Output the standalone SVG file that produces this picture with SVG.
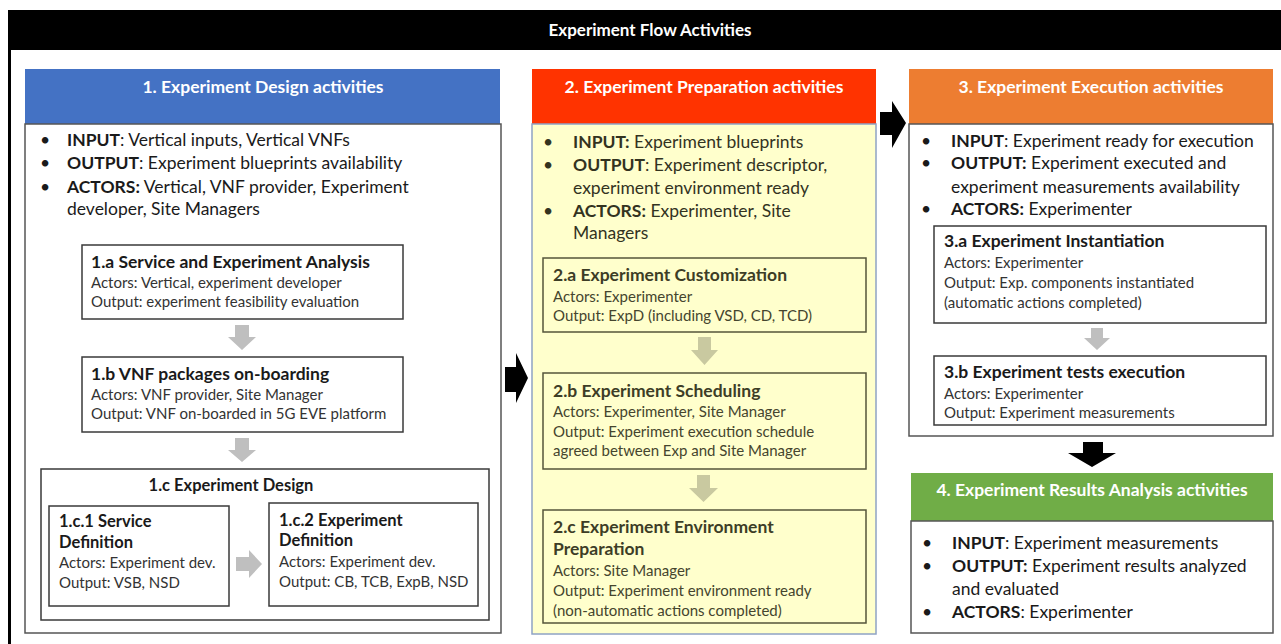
<svg xmlns="http://www.w3.org/2000/svg" width="1281" height="644" viewBox="0 0 1281 644">
<style>
text{font-family:Lato,"Liberation Sans",sans-serif;}
.hdr{font-size:17.5px;font-weight:bold;fill:#fff;text-anchor:middle;}
.bul{font-size:17.5px;fill:#1a1a1a;}
.b{font-weight:bold;}
.st{font-size:17.5px;font-weight:bold;fill:#1a1a1a;}
.sd{font-size:15px;fill:#333;}
.yst{font-size:17.5px;font-weight:bold;fill:#3d3d26;}
.ysd{font-size:15px;fill:#45452e;}
.ybul{font-size:17.5px;fill:#33331f;}
.box{fill:#fff;stroke:#3a3a3a;stroke-width:1.5;}
.ybox{fill:none;stroke:#55553a;stroke-width:1.5;}
.body{fill:#fff;stroke:#555;stroke-width:1.5;}
.garr{fill:#bfbfbf;}
.yarr{fill:#c9c9a0;}
.karr{fill:#000;}
</style>
<rect x="0" y="0" width="1281" height="644" fill="#fff"/>
<g id="frame">
<rect x="8" y="10" width="1273" height="40" fill="#000"/>
<rect x="8" y="50" width="3" height="594" fill="#000"/>
<text x="650" y="36" class="hdr" style="font-size:17px">Experiment Flow Activities</text>
</g>

<g id="box1">
<rect x="25" y="69" width="475" height="55" fill="#4472c4"/>
<text x="263" y="93" class="hdr">1. Experiment Design activities</text>
<rect x="25" y="124" width="476" height="509" class="body"/>
<text x="40" y="146" class="bul">•</text><text x="67" y="146" class="bul"><tspan class="b">INPUT</tspan>: Vertical inputs, Vertical VNFs</text>
<text x="40" y="169" class="bul">•</text><text x="67" y="169" class="bul"><tspan class="b">OUTPUT</tspan>: Experiment blueprints availability</text>
<text x="40" y="193" class="bul">•</text><text x="67" y="193" class="bul"><tspan class="b">ACTORS:</tspan> Vertical, VNF provider, Experiment</text>
<text x="67" y="215" class="bul">developer, Site Managers</text>
</g>
<g id="n1a">
<rect x="82" y="245" width="321" height="74" class="box"/>
<text x="91" y="268" class="st">1.a Service and Experiment Analysis</text>
<text x="91" y="288" class="sd">Actors: Vertical, experiment developer</text>
<text x="91" y="307" class="sd">Output: experiment feasibility evaluation</text>
</g>
<g id="n1b">
<rect x="82" y="357" width="321" height="75" class="box"/>
<text x="91" y="380" class="st">1.b VNF packages on-boarding</text>
<text x="91" y="400" class="sd">Actors: VNF provider, Site Manager</text>
<text x="91" y="419" class="sd">Output: VNF on-boarded in 5G EVE platform</text>
</g>
<g id="n1c">
<rect x="41" y="469" width="448" height="151" class="box"/>
<text x="231" y="491" class="st" text-anchor="middle" style="font-size:16.5px">1.c Experiment Design</text>
</g>
<g id="n1c1">
<rect x="49" y="506" width="180" height="100" class="box"/>
<text x="59" y="527" class="st" style="font-size:16.5px">1.c.1 Service</text>
<text x="59" y="548" class="st" style="font-size:16.5px">Definition</text>
<text x="59" y="568" class="sd">Actors: Experiment dev.</text>
<text x="59" y="588" class="sd">Output: VSB, NSD</text>
</g>
<g id="n1c2">
<rect x="269" y="503" width="209" height="103" class="box"/>
<text x="279" y="526" class="st" style="font-size:16.5px">1.c.2 Experiment</text>
<text x="279" y="546" class="st" style="font-size:16.5px">Definition</text>
<text x="279" y="567" class="sd">Actors: Experiment dev.</text>
<text x="279" y="587" class="sd">Output: CB, TCB, ExpB, NSD</text>
</g>

<g id="box2">
<rect x="532" y="69" width="344" height="55" fill="#ff3300"/>
<text x="704" y="93" class="hdr">2. Experiment Preparation activities</text>
<rect x="532" y="124" width="344" height="510" fill="#ffffcc" stroke="#8fa3c4" stroke-width="1.5"/>
<text x="543" y="148" class="ybul">•</text><text x="573" y="148" class="ybul"><tspan class="b">INPUT:</tspan> Experiment blueprints</text>
<text x="543" y="171" class="ybul">•</text><text x="573" y="171" class="ybul"><tspan class="b">OUTPUT</tspan>: Experiment descriptor,</text>
<text x="573" y="194" class="ybul">experiment environment ready</text>
<text x="543" y="217" class="ybul">•</text><text x="573" y="217" class="ybul"><tspan class="b">ACTORS:</tspan> Experimenter, Site</text>
<text x="573" y="239" class="ybul">Managers</text>
</g>
<g id="n2a">
<rect x="543" y="258" width="323" height="74" class="ybox"/>
<text x="553" y="281" class="yst">2.a Experiment Customization</text>
<text x="553" y="302" class="ysd">Actors: Experimenter</text>
<text x="553" y="321" class="ysd">Output: ExpD (including VSD, CD, TCD)</text>
</g>
<g id="n2b">
<rect x="543" y="373" width="323" height="96" class="ybox"/>
<text x="553" y="397" class="yst">2.b Experiment Scheduling</text>
<text x="553" y="417" class="ysd">Actors: Experimenter, Site Manager</text>
<text x="553" y="437" class="ysd">Output: Experiment execution schedule</text>
<text x="553" y="456" class="ysd">agreed between Exp and Site Manager</text>
</g>
<g id="n2c">
<rect x="543" y="510" width="323" height="113" class="ybox"/>
<text x="553" y="533" class="yst">2.c Experiment Environment</text>
<text x="553" y="555" class="yst">Preparation</text>
<text x="553" y="576" class="ysd">Actors: Site Manager</text>
<text x="553" y="596" class="ysd">Output: Experiment environment ready</text>
<text x="553" y="616" class="ysd">(non-automatic actions completed)</text>
</g>

<g id="box3">
<rect x="909" y="69" width="364" height="55" fill="#ed7d31"/>
<text x="1091" y="93" class="hdr">3. Experiment Execution activities</text>
<rect x="909" y="124" width="364" height="312" class="body"/>
<text x="921" y="147" class="bul">•</text><text x="951" y="147" class="bul"><tspan class="b">INPUT</tspan>: Experiment ready for execution</text>
<text x="921" y="169" class="bul">•</text><text x="951" y="169" class="bul"><tspan class="b">OUTPUT:</tspan> Experiment executed and</text>
<text x="951" y="193" class="bul">experiment measurements availability</text>
<text x="921" y="215" class="bul">•</text><text x="951" y="215" class="bul"><tspan class="b">ACTORS:</tspan> Experimenter</text>
</g>
<g id="n3a">
<rect x="934" y="226" width="332" height="97" class="box"/>
<text x="944" y="247" class="st">3.a Experiment Instantiation</text>
<text x="944" y="268" class="sd">Actors: Experimenter</text>
<text x="944" y="288" class="sd">Output: Exp. components instantiated</text>
<text x="944" y="308" class="sd">(automatic actions completed)</text>
</g>
<g id="n3b">
<rect x="934" y="356" width="332" height="69" class="box"/>
<text x="944" y="378" class="st">3.b Experiment tests execution</text>
<text x="944" y="399" class="sd">Actors: Experimenter</text>
<text x="944" y="418" class="sd">Output: Experiment measurements</text>
</g>

<g id="box4">
<rect x="911" y="473" width="362" height="48" fill="#70ad47"/>
<text x="1092" y="496" class="hdr">4. Experiment Results Analysis activities</text>
<rect x="911" y="521" width="362" height="112" class="body"/>
<text x="922" y="549" class="bul">•</text><text x="952" y="549" class="bul"><tspan class="b">INPUT</tspan>: Experiment measurements</text>
<text x="922" y="572" class="bul">•</text><text x="952" y="572" class="bul"><tspan class="b">OUTPUT:</tspan> Experiment results analyzed</text>
<text x="952" y="595" class="bul">and evaluated</text>
<text x="922" y="618" class="bul">•</text><text x="952" y="618" class="bul"><tspan class="b">ACTORS</tspan>: Experimenter</text>
</g>

<g id="connectors">
<polygon class="garr" points="235,325 249,325 249,337 256,337 242,350 228,337 235,337"/>
<polygon class="garr" points="235,438 249,438 249,450 256,450 242,462 228,450 235,450"/>
<polygon class="garr" points="236,557 249,557 249,550 262,564 249,578 249,571 236,571"/>
<polygon class="yarr" points="698,337 711,337 711,350 718,350 704.5,365 691,350 698,350"/>
<polygon class="yarr" points="697,475 710,475 710,488 718,488 703.5,502 689,488 697,488"/>
<polygon class="garr" points="1091,328 1103,328 1103,338 1110,338 1097,350 1084,338 1091,338"/>
<polygon class="karr" points="505,367 516,367 516,353 528,378 516,403 516,392 505,392"/>
<polygon class="karr" points="880,112 892,112 892,101 906,123 892,148 892,135 880,135"/>
<polygon class="karr" points="1083,442 1103,442 1103,453 1116,453 1092,467 1068,453 1083,453"/>
</g>
</svg>
